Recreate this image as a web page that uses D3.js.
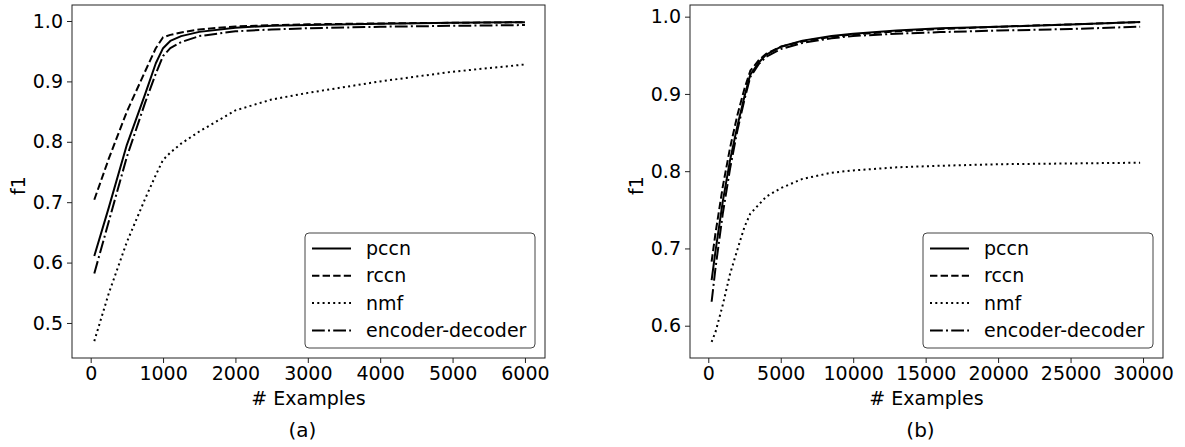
<!DOCTYPE html>
<html lang="en">

<head>
    <meta charset="UTF-8">
    <title>f1 vs examples</title>
    <style>
        body { margin: 0; background: #fff; }
        text { font-family: "DejaVu Sans", sans-serif; fill: #000; }
    </style>
</head>

<body>
    <div id="wrapper"></div>
    <script src="https://d3js.org/d3.v7.min.js"></script>
    <script>
        // ---- data ----
        const seriesNames = ['pccn', 'rccn', 'nmf', 'encoder-decoder'];

        // panel (a)
        const xA = [50, 250, 500, 750, 900, 1000, 1100, 1250, 1500, 2000, 2500, 3000, 4000, 5000, 6000];
        const pccnA = [0.611, 0.691, 0.795, 0.878, 0.930, 0.955, 0.967, 0.975, 0.982, 0.989, 0.992, 0.9935, 0.9955, 0.997, 0.998];
        const rccnA = [0.704, 0.772, 0.850, 0.916, 0.955, 0.973, 0.977, 0.981, 0.986, 0.991, 0.993, 0.9945, 0.996, 0.997, 0.998];
        const nmfA = [0.470, 0.549, 0.634, 0.705, 0.745, 0.770, 0.782, 0.797, 0.817, 0.852, 0.870, 0.881, 0.900, 0.916, 0.928];
        const encdecA = [0.582, 0.668, 0.775, 0.864, 0.913, 0.942, 0.955, 0.965, 0.975, 0.983, 0.986, 0.988, 0.9905, 0.992, 0.9933];
        const xTicksA = [0, 1000, 2000, 3000, 4000, 5000, 6000];
        const yTicksA = [0.5, 0.6, 0.7, 0.8, 0.9, 1.0];

        // panel (b)
        const xB = [230, 500, 1000, 1500, 2000, 2500, 2900, 3500, 4000, 5000, 6500, 8500, 10000, 13000, 16000, 20000, 25000, 29800];
        const pccnB = [0.659, 0.697, 0.761, 0.814, 0.858, 0.897, 0.925, 0.941, 0.951, 0.961, 0.969, 0.975, 0.978, 0.982, 0.985, 0.987, 0.990, 0.993];
        const rccnB = [0.683, 0.720, 0.780, 0.830, 0.872, 0.907, 0.930, 0.944, 0.952, 0.961, 0.968, 0.974, 0.977, 0.981, 0.984, 0.987, 0.990, 0.993];
        const nmfB = [0.579, 0.592, 0.627, 0.667, 0.698, 0.728, 0.745, 0.757, 0.767, 0.778, 0.790, 0.798, 0.801, 0.805, 0.807, 0.809, 0.810, 0.811];
        const encdecB = [0.631, 0.675, 0.745, 0.803, 0.852, 0.893, 0.922, 0.939, 0.948, 0.958, 0.966, 0.972, 0.975, 0.978, 0.980, 0.982, 0.984, 0.987];
        const xTicksB = [0, 5000, 10000, 15000, 20000, 25000, 30000];
        const yTicksB = [0.6, 0.7, 0.8, 0.9, 1.0];

        // ---- styles ----
        const lw = 2;
        const dashes = {
            'pccn': null,
            'rccn': '7.4,3.2',
            'nmf': '2,3.3',
            'encoder-decoder': '12.8,3.2,2,3.2'
        };
        const fontSize = 19;

        const width = 1185,
            height = 447;
        const svg = d3.select('#wrapper').append('svg')
            .attr('width', width)
            .attr('height', height);

        function drawPanel(opt) {
            const { left, right, top, bottom } = opt.box;
            const g = svg.append('g');

            const x = d3.scaleLinear().domain(opt.xDomain).range([left, right]);
            const y = d3.scaleLinear().domain(opt.yDomain).range([bottom, top]);

            // lines
            const line = d3.line()
                .x(d => x(d[0]))
                .y(d => y(d[1]));

            opt.series.forEach((vals, i) => {
                const name = seriesNames[i];
                const pts = opt.xs.map((v, j) => [v, vals[j]]);
                g.append('path')
                    .datum(pts)
                    .attr('fill', 'none')
                    .attr('stroke', '#000')
                    .attr('stroke-width', lw)
                    .attr('stroke-linejoin', 'round')
                    .attr('stroke-dasharray', dashes[name])
                    .attr('d', line);
            });

            // axes
            const xAxis = d3.axisBottom(x)
                .tickValues(opt.xTicks)
                .tickFormat(d3.format('d'))
                .tickSizeInner(5)
                .tickSizeOuter(0)
                .tickPadding(4);
            const yAxis = d3.axisLeft(y)
                .tickValues(opt.yTicks)
                .tickFormat(d3.format('.1f'))
                .tickSizeInner(5)
                .tickSizeOuter(0)
                .tickPadding(4);

            const gx = g.append('g')
                .attr('transform', `translate(0,${bottom})`)
                .call(xAxis);
            const gy = g.append('g')
                .attr('transform', `translate(${left},0)`)
                .call(yAxis);
            [gx, gy].forEach(a => {
                a.select('.domain').remove();
                a.selectAll('line').attr('stroke', '#222').attr('stroke-width', 1);
                a.selectAll('text')
                    .style('font-family', '"DejaVu Sans", sans-serif')
                    .style('font-size', fontSize + 'px')
                    .attr('fill', '#000');
            });

            // frame
            g.append('rect')
                .attr('x', left)
                .attr('y', top)
                .attr('width', right - left)
                .attr('height', bottom - top)
                .attr('fill', 'none')
                .attr('stroke', '#222')
                .attr('stroke-width', 1);

            // axis labels
            g.append('text')
                .attr('x', (left + right) / 2)
                .attr('y', bottom + 47)
                .attr('text-anchor', 'middle')
                .style('font-size', fontSize + 'px')
                .text('# Examples');
            g.append('text')
                .attr('transform', `translate(${left - 47},${(top + bottom) / 2 + 4}) rotate(-90)`)
                .attr('text-anchor', 'middle')
                .style('font-size', fontSize + 'px')
                .text('f1');

            // caption
            g.append('text')
                .attr('x', (left + right) / 2 - 6)
                .attr('y', 437)
                .attr('text-anchor', 'middle')
                .style('font-size', '20px')
                .text(opt.caption);

            // legend
            const lgW = 230,
                lgH = 115;
            const lgX = right - 10 - lgW,
                lgY = bottom - 10 - lgH;
            const lg = g.append('g').attr('transform', `translate(${lgX},${lgY})`);
            lg.append('rect')
                .attr('width', lgW)
                .attr('height', lgH)
                .attr('rx', 4)
                .attr('fill', '#fff')
                .attr('stroke', '#444')
                .attr('stroke-width', 1);
            seriesNames.forEach((name, i) => {
                const ry = 15.5 + i * 27.3;
                lg.append('line')
                    .attr('x1', 7)
                    .attr('x2', 46)
                    .attr('y1', ry)
                    .attr('y2', ry)
                    .attr('stroke', '#000')
                    .attr('stroke-width', lw)
                    .attr('stroke-dasharray', dashes[name]);
                lg.append('text')
                    .attr('x', 61)
                    .attr('y', ry)
                    .attr('dy', '0.35em')
                    .style('font-size', fontSize + 'px')
                    .text(name);
            });
        }

        drawPanel({
            box: { left: 72, right: 545, top: 5, bottom: 358 },
            xDomain: [-258, 6277],
            yDomain: [0.442, 1.0265],
            xs: xA,
            series: [pccnA, rccnA, nmfA, encdecA],
            xTicks: xTicksA,
            yTicks: yTicksA,
            caption: '(a)'
        });

        drawPanel({
            box: { left: 690, right: 1163, top: 5, bottom: 358 },
            xDomain: [-1262, 31379],
            yDomain: [0.5582, 1.0151],
            xs: xB,
            series: [pccnB, rccnB, nmfB, encdecB],
            xTicks: xTicksB,
            yTicks: yTicksB,
            caption: '(b)'
        });
    </script>
</body>

</html>
